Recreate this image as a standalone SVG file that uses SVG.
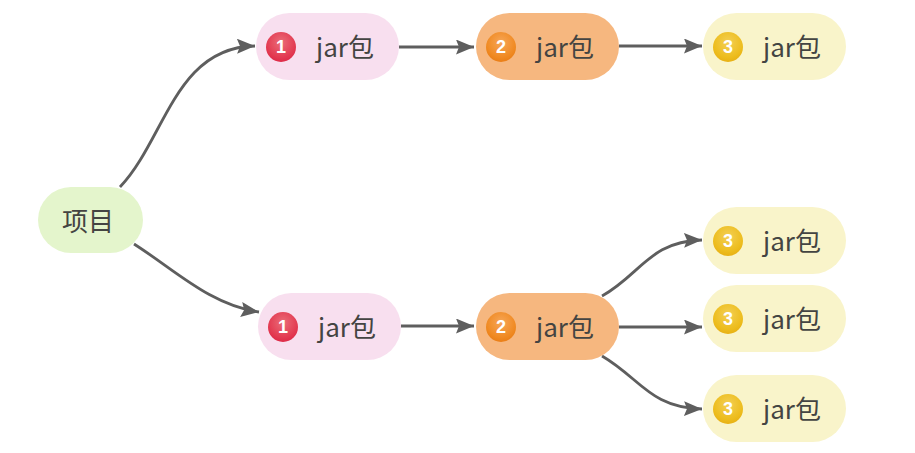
<svg xmlns="http://www.w3.org/2000/svg" width="915" height="453" viewBox="0 0 915 453">
<style>
.bg{fill:#fff}
.t{font-family:"Noto Sans CJK SC","Noto Sans",sans-serif;font-size:26px;fill:#444442;text-anchor:middle}
.n{font-family:"Liberation Sans",sans-serif;font-size:18px;font-weight:bold;fill:#fff;text-anchor:middle}
.c{fill:none;stroke:#5e5e5e;stroke-width:2.8}
.p1{fill:#f8dfef}.p2{fill:#f6b77f}.p3{fill:#f9f4ca}.p0{fill:#e4f5cc}
</style>
<defs>
<marker id="a" markerUnits="userSpaceOnUse" markerWidth="19" markerHeight="16" refX="18" refY="7.5" orient="auto"><path d="M0 0L18 7.5L0 15L3 7.5Z" fill="#5e5e5e"/></marker>
<radialGradient id="g1" cy="0.35" r="0.7"><stop offset="0" stop-color="#ea6d78"/><stop offset="0.7" stop-color="#e33b52"/><stop offset="1" stop-color="#dc2545"/></radialGradient>
<radialGradient id="g2" cy="0.35" r="0.7"><stop offset="0" stop-color="#f6a658"/><stop offset="0.7" stop-color="#f08a22"/><stop offset="1" stop-color="#e87a12"/></radialGradient>
<radialGradient id="g3" cy="0.35" r="0.7"><stop offset="0" stop-color="#f3cf55"/><stop offset="0.7" stop-color="#edbd1e"/><stop offset="1" stop-color="#e6ad12"/></radialGradient>
</defs>
<rect class="bg" width="915" height="453"/>
<g id="connectors">
<path class="c" marker-end="url(#a)" d="M120 187C165 140 175 47 255 46"/>
<path class="c" marker-end="url(#a)" d="M134 244C175 270 210 305 259 312"/>
<path class="c" marker-end="url(#a)" d="M399 47H474"/>
<path class="c" marker-end="url(#a)" d="M619 46H702"/>
<path class="c" marker-end="url(#a)" d="M401 326H474"/>
<path class="c" marker-end="url(#a)" d="M602 296C640 275 650 241 702 240"/>
<path class="c" marker-end="url(#a)" d="M619 327H702"/>
<path class="c" marker-end="url(#a)" d="M602 356C640 378 650 408 702 409"/>
</g>
<g id="root"><rect class="p0" x="38" y="187" width="105" height="66" rx="33"/><text class="t" x="88" y="231">项目</text></g>
<g id="a1"><rect class="p1" x="256" y="13" width="143" height="67" rx="33.5"/><circle cx="281" cy="47" r="15" fill="url(#g1)"/><text class="n" x="281" y="53">1</text><text class="t" x="345" y="57">jar包</text></g>
<g id="a2"><rect class="p2" x="476" y="13" width="143" height="67" rx="33.5"/><circle cx="501" cy="47" r="15" fill="url(#g2)"/><text class="n" x="501" y="53">2</text><text class="t" x="565" y="57">jar包</text></g>
<g id="a3"><rect class="p3" x="703" y="13" width="143" height="67" rx="33.5"/><circle cx="728" cy="47" r="15" fill="url(#g3)"/><text class="n" x="728" y="53">3</text><text class="t" x="792" y="57">jar包</text></g>
<g id="b1"><rect class="p1" x="258" y="293" width="143" height="67" rx="33.5"/><circle cx="283" cy="327" r="15" fill="url(#g1)"/><text class="n" x="283" y="333">1</text><text class="t" x="347" y="337">jar包</text></g>
<g id="b2"><rect class="p2" x="476" y="293" width="143" height="67" rx="33.5"/><circle cx="501" cy="327" r="15" fill="url(#g2)"/><text class="n" x="501" y="333">2</text><text class="t" x="565" y="337">jar包</text></g>
<g id="c1"><rect class="p3" x="703" y="207" width="143" height="67" rx="33.5"/><circle cx="728" cy="241" r="15" fill="url(#g3)"/><text class="n" x="728" y="247">3</text><text class="t" x="792" y="251">jar包</text></g>
<g id="c2"><rect class="p3" x="703" y="285" width="143" height="67" rx="33.5"/><circle cx="728" cy="319" r="15" fill="url(#g3)"/><text class="n" x="728" y="325">3</text><text class="t" x="792" y="329">jar包</text></g>
<g id="c3"><rect class="p3" x="703" y="375" width="143" height="67" rx="33.5"/><circle cx="728" cy="409" r="15" fill="url(#g3)"/><text class="n" x="728" y="415">3</text><text class="t" x="792" y="419">jar包</text></g>
</svg>
